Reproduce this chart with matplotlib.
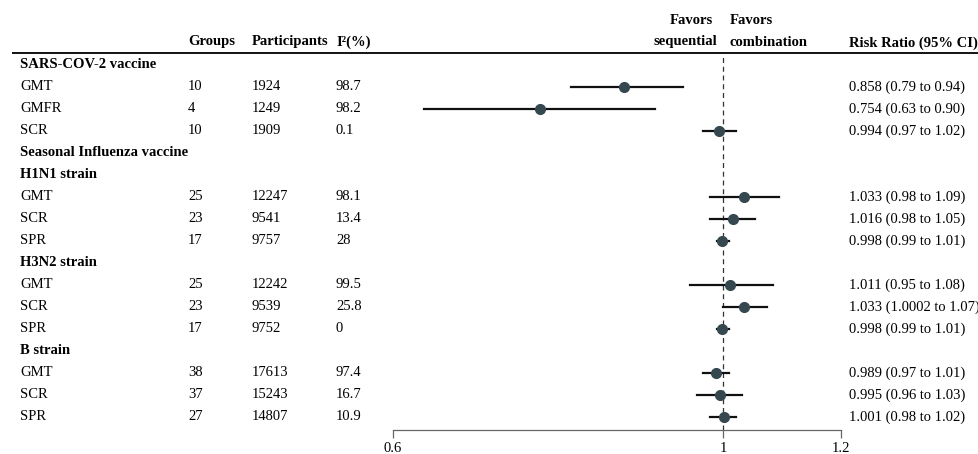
import numpy as np
import matplotlib
matplotlib.use("Agg")
import matplotlib.pyplot as plt

plt.rcParams['font.family'] = ['Liberation Serif', 'DejaVu Serif']
plt.rcParams['font.size'] = 10.5

#### Data
row_labels = ['SARS-COV-2 vaccine', 'GMT', 'GMFR', 'SCR',
              'Seasonal Influenza vaccine',
              'H1N1 strain', 'GMT', 'SCR', 'SPR',
              'H3N2 strain', 'GMT', 'SCR', 'SPR',
              'B strain', 'GMT', 'SCR', 'SPR']
groups = ['', '10', '4', '10', '', '', '25', '23', '17', '', '25', '23', '17', '', '38', '37', '27']
participants = ['', '1924', '1249', '1909', '', '', '12247', '9541', '9757',
                '', '12242', '9539', '9752', '', '17613', '15243', '14807']
i2 = ['', '98.7', '98.2', '0.1', '', '', '98.1', '13.4', '28',
      '', '99.5', '25.8', '0', '', '97.4', '16.7', '10.9']
rr = ['', '0.858', '0.754', '0.994', '', '', '1.033', '1.016', '0.998',
      '', '1.011', '1.033', '0.998', '', '0.989', '0.995', '1.001']
ci_low = ['', '0.79', '0.63', '0.97', '', '', '0.98', '0.98', '0.99',
          '', '0.95', '1.0002', '0.99', '', '0.97', '0.96', '0.98']
ci_high = ['', '0.94', '0.90', '1.02', '', '', '1.09', '1.05', '1.01',
           '', '1.08', '1.07', '1.01', '', '1.01', '1.03', '1.02']

#### Layout (pixel coordinates of a 979x454 canvas)
W, H = 979, 454
row_y = 65 + 22 * np.arange(len(row_labels))
x_label, x_groups, x_part, x_i2, x_rr = 20, 188, 252, 336, 849

fig = plt.figure(figsize=(W / 100, H / 100), dpi=100)
tab = fig.add_axes([0, 0, 1, 1])
tab.set_xlim(0, W)
tab.set_ylim(H, 0)
tab.axis('off')

# header
for x, t in [(x_groups, 'Groups'), (x_part, 'Participants'), (x_i2, 'I\u00b2(%)')]:
    tab.text(x, 42, t, ha='left', va='center', fontweight='bold')
tab.text(x_rr, 43, 'Risk Ratio (95% CI)', ha='left', va='center', fontweight='bold')
tab.text(691, 21, 'Favors', ha='center', va='center', fontweight='bold')
tab.text(685, 42, 'sequential', ha='center', va='center', fontweight='bold')
tab.text(730, 21, 'Favors', ha='left', va='center', fontweight='bold')
tab.text(730, 42, 'combination', ha='left', va='center', fontweight='bold')
tab.plot([12, W], [52.5, 52.5], color='black', lw=1.3, solid_capstyle='butt')

# table rows
for i, lab in enumerate(row_labels):
    y = row_y[i]
    if rr[i] == '':
        tab.text(x_label, y, lab, ha='left', va='center', fontweight='bold')
        continue
    tab.text(x_label, y, lab, ha='left', va='center')
    tab.text(x_groups, y, groups[i], ha='left', va='center')
    tab.text(x_part, y, participants[i], ha='left', va='center')
    tab.text(x_i2, y, i2[i], ha='left', va='center')
    tab.text(x_rr, y, '{} ({} to {})'.format(rr[i], ci_low[i], ci_high[i]), ha='left', va='center')

#### Forest plot
ax = fig.add_axes([392.5 / W, (H - 430) / H, (841 - 392.5) / W, (430 - 52) / H])
ax.patch.set_alpha(0)
ax.set_xscale('log')
ax.set_xlim(0.6, 1.2)
ax.set_ylim(430, 52)
ax.axvline(1, ymin=0, ymax=(430 - 57) / (430 - 52), color='#333333', lw=0.9, ls=(0, (4, 3)))
for i in range(len(row_labels)):
    if rr[i] == '':
        continue
    ax.plot([float(ci_low[i]), float(ci_high[i])], [row_y[i], row_y[i]], color='#111111', lw=1.6)
    ax.plot(float(rr[i]), row_y[i], 'o', color='#35474f', markersize=7)

for s in ['top', 'left', 'right']:
    ax.spines[s].set_visible(False)
ax.spines['bottom'].set_color('#666666')
ax.spines['bottom'].set_linewidth(0.9)
ax.set_yticks([])
ax.set_xticks([0.6, 1, 1.2])
ax.set_xticklabels(['0.6', '1', '1.2'])
ax.minorticks_off()
ax.tick_params(axis='x', direction='out', length=6, color='#666666', width=0.9, pad=3)

fig.savefig('out.png', dpi=100)
